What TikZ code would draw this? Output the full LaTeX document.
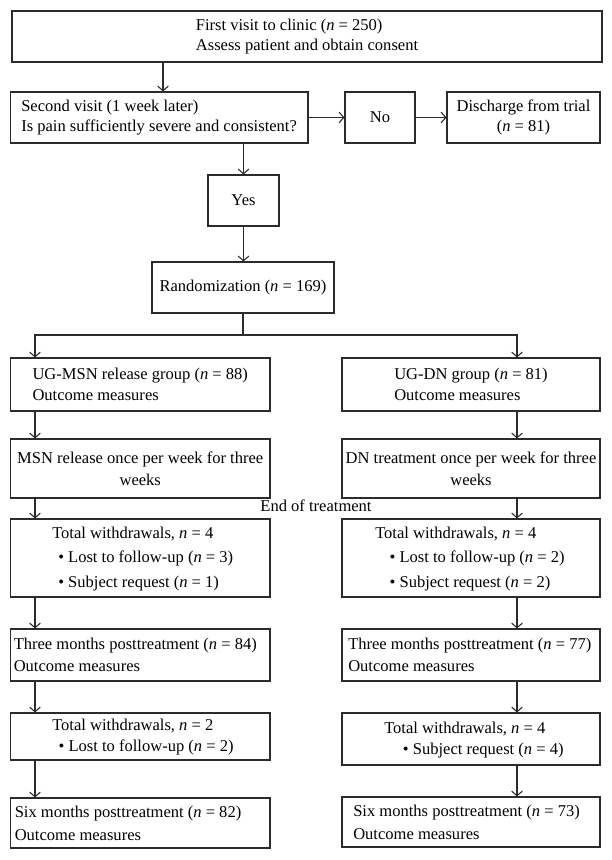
\documentclass[tikz,border=0pt]{standalone}
\usepackage{fontspec}
\setmainfont{Liberation Serif}
\usetikzlibrary{arrows.meta}
\definecolor{lc}{HTML}{2B2B2B}
\newcommand{\myfs}[1]{\fontsize{12.4}{#1}\selectfont}
\begin{document}
\begin{tikzpicture}[x=0.75pt,y=-0.75pt,
  box/.style={draw=lc, line width=0.8pt, inner sep=0pt, text=black, font=\myfs{15pt}},
  txt/.style={inner sep=0pt, text=black, font=\myfs{15pt}},
  arr/.style={draw=lc, line width=0.8pt, -{Straight Barb[length=3.5pt,width=8pt,line width=0.8pt]}},
  ln/.style={draw=lc, line width=0.8pt}]
\useasboundingbox (0,0) rectangle (611,860);
\fill[white] (0,0) rectangle (611,860);

% column x positions for connectors
\coordinate (xA) at (163,0);
\coordinate (xL) at (35,0);
\coordinate (xR) at (517,0);

% top
\node[box, minimum width=442.5pt, minimum height=38.25pt, align=left] (top) at (307,36.5)
  {First visit to clinic (\textit{n} = 250)\\Assess patient and obtain consent};

% second visit
\node[box, minimum width=223.1pt, minimum height=38.25pt] (second) at (159.25,117.5) {};
\node[txt, anchor=west, align=left] (secondT) at (21,118)
  {Second visit (1 week later)\\Is pain sufficiently severe and consistent?};
\node[box, minimum width=52.5pt, minimum height=38.25pt] (no) at (380,117.5) {No};
\node[box, minimum width=114.75pt, minimum height=38.25pt, align=center] (dis) at (523.5,117.5)
  {Discharge from trial\\(\textit{n} = 81)};
\node[box, minimum width=53.25pt, minimum height=38.25pt] (yes) at (243.5,200.5) {Yes};
\node[box, minimum width=136.5pt, minimum height=38.25pt] (rand) at (243,287.5)
  {Randomization (\textit{n} = 169)};

% groups
\node[box, minimum width=194.6pt, minimum height=39.75pt, align=left, font=\myfs{15.75pt}] (ugl) at (140.25,384.5)
  {UG-MSN release group (\textit{n} = 88)\\Outcome measures};
\node[box, minimum width=193.5pt, minimum height=39.75pt, align=left, font=\myfs{15.75pt}] (ugr) at (471,384.5)
  {UG-DN group (\textit{n} = 81)\\Outcome measures};

\node[box, minimum width=194.6pt, minimum height=44.25pt, align=center, font=\myfs{16.5pt}] (msn) at (140.25,468.5)
  {MSN release once per week for three\\weeks};
\node[box, minimum width=193.5pt, minimum height=44.25pt, align=center, font=\myfs{16.5pt}] (dn) at (471,468.5)
  {DN treatment once per week for three\\weeks};

\node[txt] (eot) at (316,506) {End of treatment};

% withdrawals 1
\node[box, minimum width=194.6pt, minimum height=58.5pt] (w1l) at (140.25,558) {};
\node[txt, anchor=west, align=left, font=\myfs{18.5pt}] (w1lT) at (52,559)
  {Total withdrawals, \textit{n} = 4\\\hspace*{4.5pt}• Lost to follow-up (\textit{n} = 3)\\\hspace*{4.5pt}• Subject request (\textit{n} = 1)};
\node[box, minimum width=193.5pt, minimum height=58.5pt] (w1r) at (471,558) {};
\node[txt, anchor=west, align=left, font=\myfs{18.5pt}] (w1rT) at (375,559)
  {Total withdrawals, \textit{n} = 4\\\hspace*{10.8pt}• Lost to follow-up (\textit{n} = 2)\\\hspace*{10.8pt}• Subject request (\textit{n} = 2)};

% three months
\node[box, minimum width=194.6pt, minimum height=39pt] (tml) at (140.25,655) {};
\node[txt, anchor=west, align=left, font=\myfs{16.5pt}] (tmlT) at (13.5,655)
  {Three months posttreatment (\textit{n} = 84)\\Outcome measures};
\node[box, minimum width=193.5pt, minimum height=39pt] (tmr) at (471,655) {};
\node[txt, anchor=west, align=left, font=\myfs{16.5pt}] (tmrT) at (348,655)
  {Three months posttreatment (\textit{n} = 77)\\Outcome measures};

% withdrawals 2
\node[box, minimum width=194.6pt, minimum height=35.25pt] (w2l) at (140.25,736.5) {};
\node[txt, anchor=west, align=left, font=\myfs{15.5pt}] (w2lT) at (52,737)
  {Total withdrawals, \textit{n} = 2\\\hspace*{4.8pt}• Lost to follow-up (\textit{n} = 2)};
\node[box, minimum width=193.5pt, minimum height=39pt] (w2r) at (471,739) {};
\node[txt, anchor=west, align=left, font=\myfs{15.5pt}] (w2rT) at (384,740)
  {Total withdrawals, \textit{n} = 4\\\hspace*{14pt}• Subject request (\textit{n} = 4)};

% six months
\node[box, minimum width=194.6pt, minimum height=37.5pt] (sxl) at (140.25,823) {};
\node[txt, anchor=west, align=left, font=\myfs{17.25pt}] (sxlT) at (14.5,823)
  {Six months posttreatment (\textit{n} = 82)\\Outcome measures};
\node[box, minimum width=193.5pt, minimum height=37.5pt] (sxr) at (471,822) {};
\node[txt, anchor=west, align=left, font=\myfs{17.25pt}] (sxrT) at (353,822)
  {Six months posttreatment (\textit{n} = 73)\\Outcome measures};

% connectors
\draw[arr] (top.south -| xA) -- (second.north -| xA);
\draw[arr] (second.east) -- (no.west);
\draw[arr] (no.east) -- (dis.west);
\draw[arr] (yes.north |- second.south) -- (yes.north);
\draw[arr] (yes.south) -- (yes.south |- rand.north);
\coordinate (split) at (243,335);
\draw[ln] (rand.south) -- (split);
\draw[arr] (split) -| (ugl.north -| xL);
\draw[arr] (split) -| (ugr.north -| xR);

\draw[arr] (ugl.south -| xL) -- (msn.north -| xL);
\draw[arr] (ugr.south -| xR) -- (dn.north -| xR);
\draw[arr] (msn.south -| xL) -- (w1l.north -| xL);
\draw[arr] (dn.south -| xR) -- (w1r.north -| xR);
\draw[arr] (w1l.south -| xL) -- (tml.north -| xL);
\draw[arr] (w1r.south -| xR) -- (tmr.north -| xR);
\draw[arr] (tml.south -| xL) -- (w2l.north -| xL);
\draw[arr] (tmr.south -| xR) -- (w2r.north -| xR);
\draw[arr] (w2l.south -| xL) -- (sxl.north -| xL);
\draw[arr] (w2r.south -| xR) -- (sxr.north -| xR);
\end{tikzpicture}
\end{document}
